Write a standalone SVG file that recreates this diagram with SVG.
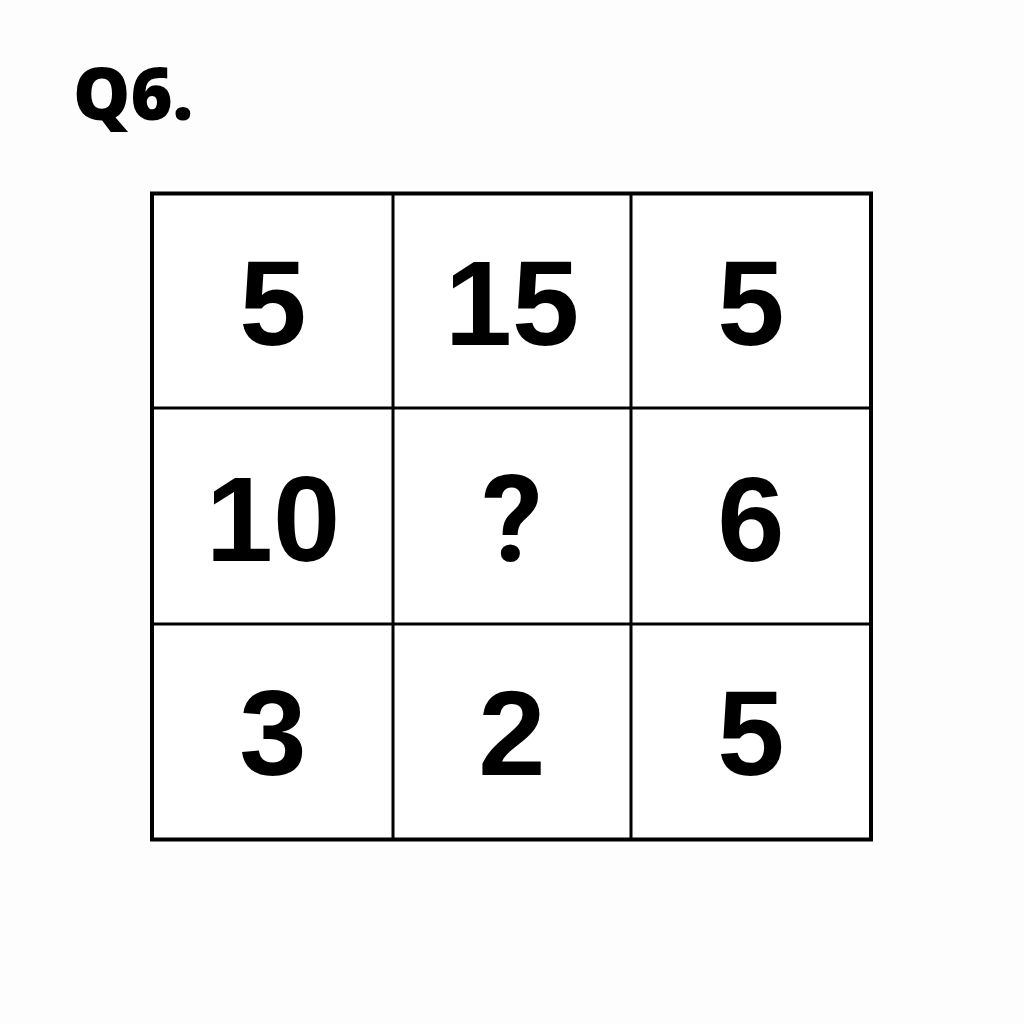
<svg xmlns="http://www.w3.org/2000/svg" width="1024" height="1024" viewBox="0 0 1024 1024">
<style>
.num{font-family:"Liberation Sans",Arial,sans-serif;font-weight:bold;font-size:121px;fill:#000;text-anchor:middle}
.q{font-family:Roboto,"Liberation Sans",sans-serif}
.ttl{font-family:"Open Sans","Noto Sans",sans-serif;font-weight:800;font-size:72px;fill:#000}
.in{stroke:#000;stroke-width:3;fill:none}
</style>
<rect width="1024" height="1024" fill="#fdfdfd"/>
<text class="ttl" x="73" y="120">Q6.</text>
<g id="grid">
<rect x="152" y="193.5" width="719" height="646" fill="#fff" stroke="#000" stroke-width="4"/>
<line class="in" x1="393" y1="193.5" x2="393" y2="839.5"/>
<line class="in" x1="631" y1="193.5" x2="631" y2="839.5"/>
<line class="in" x1="152" y1="408" x2="871" y2="408"/>
<line class="in" x1="152" y1="624" x2="871" y2="624"/>
</g>
<g id="c11"><text class="num" x="273" y="345">5</text></g>
<g id="c12"><text class="num" x="512" y="345">15</text></g>
<g id="c13"><text class="num" x="751" y="345">5</text></g>
<g id="c21"><text class="num" x="273" y="561">10</text></g>
<g id="c22"><text class="num q" x="512" y="561">?</text></g>
<g id="c23"><text class="num" x="751" y="561">6</text></g>
<g id="c31"><text class="num" x="273" y="775">3</text></g>
<g id="c32"><text class="num" x="512" y="775">2</text></g>
<g id="c33"><text class="num" x="751" y="775">5</text></g>
</svg>
